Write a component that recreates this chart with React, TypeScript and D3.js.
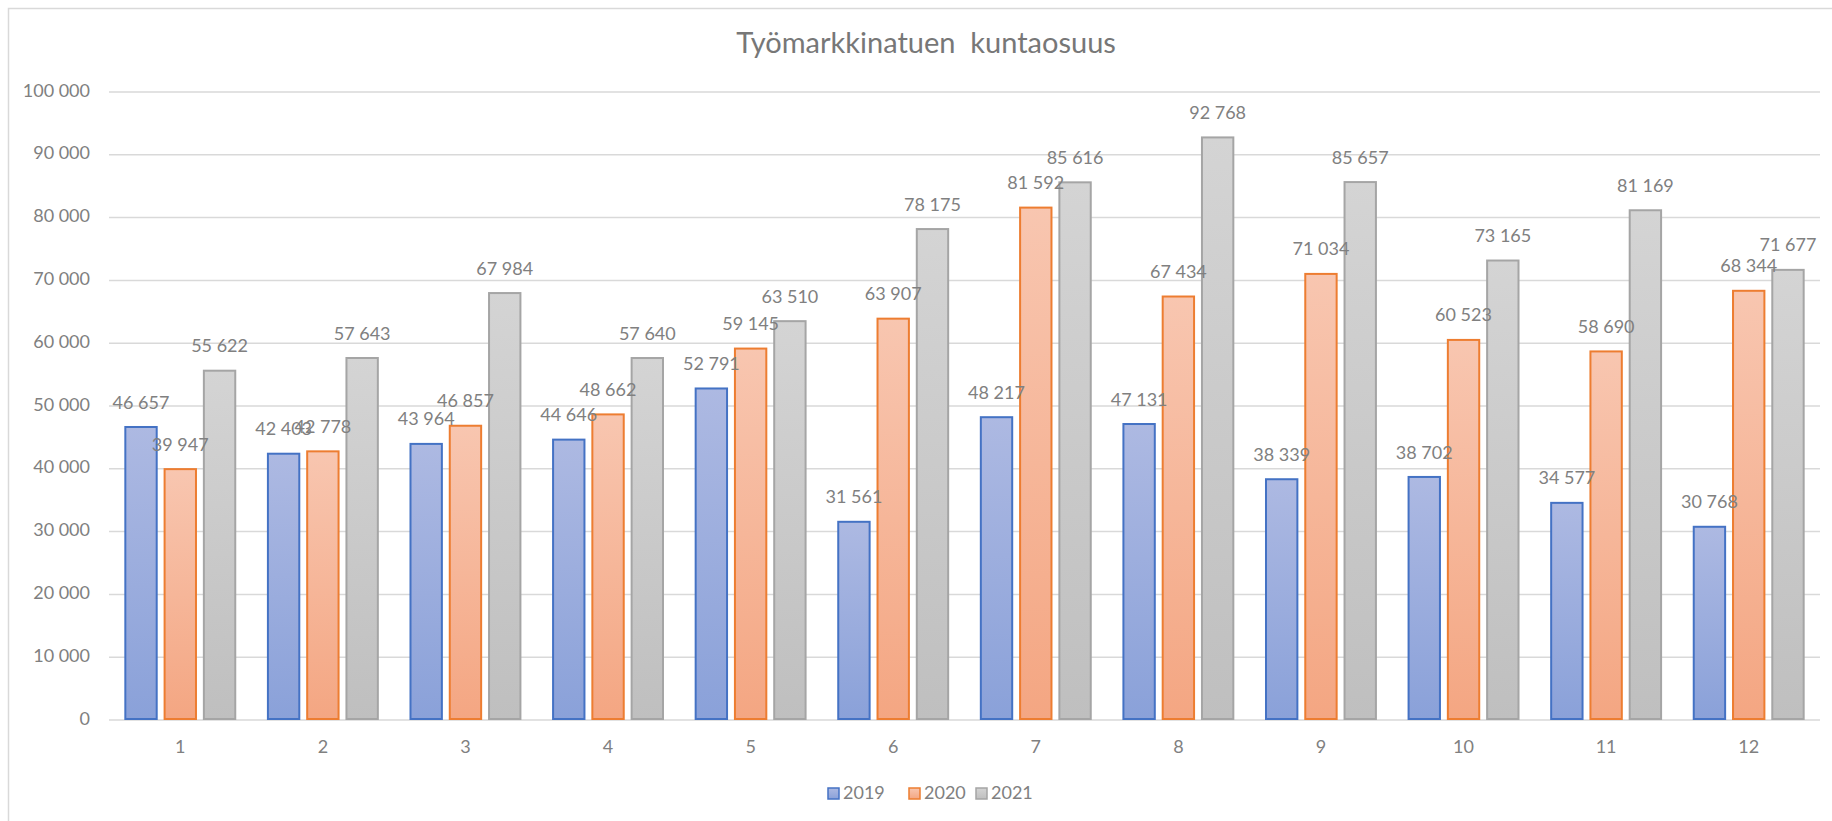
import React, { useEffect, useRef } from 'react';
import * as d3 from 'd3';

const months = ['1', '2', '3', '4', '5', '6', '7', '8', '9', '10', '11', '12'];
const years = ['2019', '2020', '2021'];
const values2019 = [46657, 42403, 43964, 44646, 52791, 31561, 48217, 47131, 38339, 38702, 34577, 30768];
const values2020 = [39947, 42778, 46857, 48662, 59145, 63907, 81592, 67434, 71034, 60523, 58690, 68344];
const values2021 = [55622, 57643, 67984, 57640, 63510, 78175, 85616, 92768, 85657, 73165, 81169, 71677];
const yTicks = [0, 10000, 20000, 30000, 40000, 50000, 60000, 70000, 80000, 90000, 100000];
const title = 'Työmarkkinatuen  kuntaosuus';

const W = 1832, H = 821;
const FONT = 'Lato, "Open Sans", sans-serif';

function App() {
  const ref = useRef<SVGSVGElement>(null);

  useEffect(() => {
    const svg = d3.select(ref.current);
    svg.selectAll('*').remove();

    const fmt = d3.formatLocale({ decimal: ',', thousands: ' ', grouping: [3], currency: ['', ' €'] }).format(',d');

    const left = 109, right = 1820, top = 92, bottom = 720;

    // gradients, one per series
    const defs = svg.append('defs');
    const grads = [
      { id: 'g2019', top: '#adb9e2', bottom: '#8aa1d9', stroke: '#4472c4' },
      { id: 'g2020', top: '#f8c6b0', bottom: '#f4a682', stroke: '#ed7d31' },
      { id: 'g2021', top: '#d4d4d4', bottom: '#bfbfbf', stroke: '#a5a5a5' },
    ];
    grads.forEach(g => {
      const lg = defs.append('linearGradient').attr('id', g.id)
        .attr('x1', 0).attr('y1', 0).attr('x2', 0).attr('y2', 1);
      lg.append('stop').attr('offset', '0%').attr('stop-color', g.top);
      lg.append('stop').attr('offset', '100%').attr('stop-color', g.bottom);
    });

    // frame
    svg.append('rect')
      .attr('x', 8.5).attr('y', 8.5)
      .attr('width', W).attr('height', H)
      .attr('fill', 'white')
      .attr('stroke', '#d9d9d9').attr('stroke-width', 1.5);

    svg.append('text')
      .attr('x', 926).attr('y', 46)
      .attr('text-anchor', 'middle').attr('dominant-baseline', 'middle')
      .attr('font-family', FONT).attr('font-size', 29)
      .attr('fill', '#777777')
      .style('white-space', 'pre')
      .text(title);

    const x = d3.scaleBand().domain(months).range([left, right]).paddingInner(0.215).paddingOuter(0.1075);
    const xSub = d3.scaleBand().domain(years).range([0, x.bandwidth()]).paddingInner(0.15);
    const y = d3.scaleLinear().domain([0, 100000]).range([bottom, top]);

    // grid + y labels
    const grid = svg.append('g');
    grid.selectAll('line').data(yTicks).enter().append('line')
      .attr('x1', left).attr('x2', right)
      .attr('y1', d => y(d)).attr('y2', d => y(d))
      .attr('stroke', '#d9d9d9').attr('stroke-width', 1.5);
    grid.selectAll('text').data(yTicks).enter().append('text')
      .attr('x', 90).attr('y', d => y(d))
      .attr('text-anchor', 'end').attr('dominant-baseline', 'middle')
      .attr('font-family', FONT).attr('font-size', 18)
      .attr('fill', '#808080')
      .text(d => fmt(d));

    // x labels
    svg.append('g').selectAll('text').data(months).enter().append('text')
      .attr('x', d => x(d)! + x.bandwidth() / 2).attr('y', 748)
      .attr('text-anchor', 'middle').attr('dominant-baseline', 'middle')
      .attr('font-family', FONT).attr('font-size', 18)
      .attr('fill', '#808080')
      .text(d => d);

    const series = [values2019, values2020, values2021];
    const rows = months.map((m, i) => ({ month: m, vals: years.map((yr, k) => ({ key: yr, k, value: series[k][i] })) }));

    const groups = svg.append('g').selectAll('g').data(rows).enter().append('g')
      .attr('transform', d => 'translate(' + x(d.month) + ',0)');

    groups.selectAll('rect').data(d => d.vals).enter().append('rect')
      .attr('x', d => xSub(d.key)! + 1)
      .attr('y', d => y(d.value))
      .attr('width', xSub.bandwidth() - 2)
      .attr('height', d => bottom - y(d.value) - 1)
      .attr('fill', d => 'url(#' + grads[d.k].id + ')')
      .attr('stroke', d => grads[d.k].stroke)
      .attr('stroke-width', 2);

    groups.selectAll('text').data(d => d.vals).enter().append('text')
      .attr('x', d => xSub(d.key)! + xSub.bandwidth() / 2)
      .attr('y', d => y(d.value) - 23)
      .attr('text-anchor', 'middle').attr('dominant-baseline', 'middle')
      .attr('font-family', FONT).attr('font-size', 18)
      .attr('fill', '#808080')
      .text(d => fmt(d.value));

    // legend
    const legendX = [827, 908, 975];
    const legend = svg.append('g').selectAll('g').data(years).enter().append('g')
      .attr('transform', (d, i) => 'translate(' + legendX[i] + ',787)');
    legend.append('rect')
      .attr('x', 1).attr('y', 1).attr('width', 11).attr('height', 11)
      .attr('fill', (d, i) => 'url(#' + grads[i].id + ')')
      .attr('stroke', (d, i) => grads[i].stroke).attr('stroke-width', 1.5);
    legend.append('text')
      .attr('x', 16).attr('y', 7)
      .attr('dominant-baseline', 'middle')
      .attr('font-family', FONT).attr('font-size', 18)
      .attr('fill', '#808080')
      .text(d => d);
  }, []);

  return (
    <svg ref={ref} width={W} height={H} style={{ position: 'absolute', left: 0, top: 0, display: 'block' }} />
  );
}

export default App;
